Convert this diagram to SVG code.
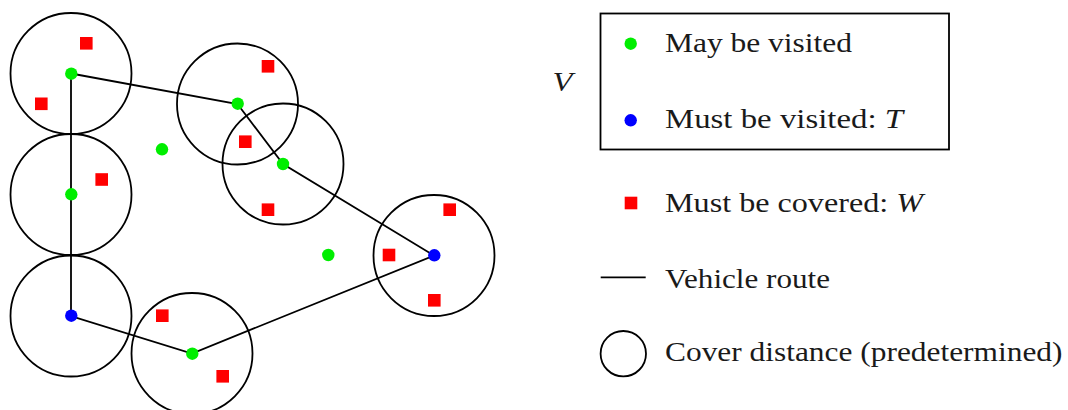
<svg xmlns="http://www.w3.org/2000/svg" width="1068" height="410" viewBox="0 0 1068 410">
<style>
.cov{fill:none;stroke:#000;stroke-width:1.8}
.route{fill:none;stroke:#000;stroke-width:1.8}
.may{fill:#00ee00}
.must{fill:#0000ff}
.w{fill:#ff0000}
.lbl{font-family:"Liberation Serif","Times New Roman",serif;font-size:28px;fill:#1a1a1a}
.it{font-style:italic}
</style>
<defs>
<rect id="sq" x="-6.3" y="-6.3" width="12.6" height="12.6" class="w"/>
</defs>
<g id="circles">
<circle class="cov" cx="71" cy="73.5" r="60.5"/>
<circle class="cov" cx="237.5" cy="104" r="60.5"/>
<circle class="cov" cx="283" cy="164" r="60.5"/>
<circle class="cov" cx="71" cy="194.5" r="60.5"/>
<circle class="cov" cx="71" cy="316" r="60.5"/>
<circle class="cov" cx="192" cy="353.5" r="60.5"/>
<circle class="cov" cx="434" cy="255.5" r="60.5"/>
</g>
<g id="connectors">
<polyline class="route" points="71,73.5 237.5,104 283,164 434,255.5 192,353.5 71,316 71,194.5 71,73.5"/>
</g>
<g id="covered">
<use href="#sq" x="86.3" y="43.3"/>
<use href="#sq" x="41.3" y="103.8"/>
<use href="#sq" x="101.7" y="179.5"/>
<use href="#sq" x="268" y="66.3"/>
<use href="#sq" x="245.3" y="141.7"/>
<use href="#sq" x="268" y="209.7"/>
<use href="#sq" x="162.3" y="315.7"/>
<use href="#sq" x="222.7" y="376.3"/>
<use href="#sq" x="449.7" y="209.7"/>
<use href="#sq" x="389" y="255"/>
<use href="#sq" x="434.3" y="300.3"/>
</g>
<g id="nodes">
<g id="n1"><circle class="may" cx="71.3" cy="73.7" r="6.2"/></g>
<g id="n2"><circle class="may" cx="237.7" cy="103.7" r="6.2"/></g>
<g id="n3"><circle class="may" cx="283" cy="164" r="6.2"/></g>
<g id="n4"><circle class="may" cx="71.3" cy="194.3" r="6.2"/></g>
<g id="n5"><circle class="must" cx="71.3" cy="315.7" r="6.2"/></g>
<g id="n6"><circle class="may" cx="192.3" cy="353.7" r="6.2"/></g>
<g id="n7"><circle class="must" cx="434.3" cy="255.3" r="6.2"/></g>
<g id="n8"><circle class="may" cx="162" cy="149.3" r="6.2"/></g>
<g id="n9"><circle class="may" cx="328.3" cy="255" r="6.2"/></g>
</g>
<g id="legend">
<rect x="600.5" y="13.5" width="348.5" height="136" fill="none" stroke="#000" stroke-width="1.8"/>
<text class="lbl it" x="552.5" y="90.7" textLength="20" lengthAdjust="spacingAndGlyphs">V</text>
<circle class="may" cx="630.7" cy="43.7" r="6.2"/>
<text class="lbl" x="665" y="51.7" textLength="187" lengthAdjust="spacingAndGlyphs">May be visited</text>
<circle class="must" cx="630.7" cy="120.3" r="6.2"/>
<text class="lbl" x="665" y="128.3" textLength="238" lengthAdjust="spacingAndGlyphs">Must be visited: <tspan class="it">T</tspan></text>
<use href="#sq" x="631" y="203"/>
<text class="lbl" x="665" y="212.3" textLength="258" lengthAdjust="spacingAndGlyphs">Must be covered: <tspan class="it">W</tspan></text>
<line class="route" x1="600.7" y1="277.3" x2="645.7" y2="277.3"/>
<text class="lbl" x="665" y="288.3" textLength="165" lengthAdjust="spacingAndGlyphs">Vehicle route</text>
<circle class="cov" cx="623.3" cy="353.7" r="22.7"/>
<text class="lbl" x="665" y="360.7" textLength="397.5" lengthAdjust="spacingAndGlyphs">Cover distance (predetermined)</text>
</g>
</svg>
